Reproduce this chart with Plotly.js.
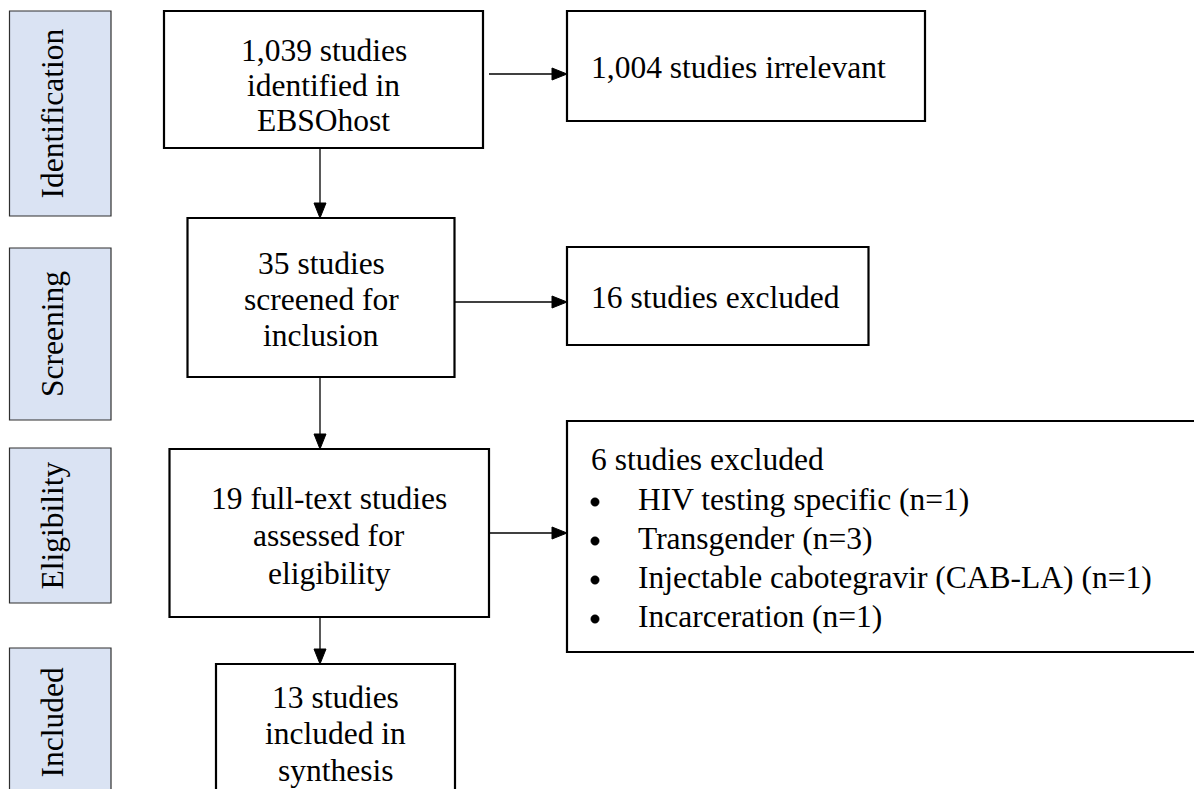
<!DOCTYPE html>
<html>
<head>
<meta charset="utf-8">
<script src="https://cdn.plot.ly/plotly-3.0.1.min.js"></script>
<style>
html,body{margin:0;padding:0;background:#fff;}
#chart{width:1194px;height:789px;}
</style>
</head>
<body>
<div id="chart"></div>
<script>
// ---------- DATA ----------
const stageLabels = ['Identification', 'Screening', 'Eligibility', 'Included'];
const flowCounts = [1039, 35, 19, 13];
const flowNouns = ['studies', 'studies', 'full-text studies', 'studies'];
const flowTails = [['identified in', 'EBSOhost'], ['screened for', 'inclusion'], ['assessed for', 'eligibility'], ['included in', 'synthesis']];
const excludedCounts = [1004, 16, 6];
const excludedLabels = ['studies irrelevant', 'studies excluded', 'studies excluded'];
const exclusionReasons = ['HIV testing specific', 'Transgender', 'Injectable cabotegravir (CAB-LA)', 'Incarceration'];
const reasonCounts = [1, 3, 1, 1];

// ---------- LAYOUT GEOMETRY (positions / styles) ----------
const FONT = {family: 'Liberation Serif, Times New Roman, serif', size: 31.5, color: '#000'};
const sideX = [9.5, 111];
const sideY = [[11, 216], [248, 420], [448, 603], [648, 797]];
const sideLabelX = 52;
const mainBoxes = [
  {x0: 164, x1: 483, y0: 11, y1: 148, lines: [50, 85, 120]},
  {x0: 187.5, x1: 454.5, y0: 218, y1: 377, lines: [263, 299, 335]},
  {x0: 169.5, x1: 489, y0: 449, y1: 617, lines: [498, 535, 573]},
  {x0: 216, x1: 455, y0: 664, y1: 800, lines: [697, 733, 770]}
];
const exclBoxes = [
  {x0: 567, x1: 925, y0: 11, y1: 121, textY: 67},
  {x0: 567, x1: 868.5, y0: 247, y1: 345, textY: 297},
  {x0: 567, x1: 1205, y0: 421, y1: 652, textY: 459}
];
const exclTextX = 589;
const bulletX = 595, bulletR = 4.2, reasonX = 636;
const reasonY = [499, 538, 577, 616];
const sideArrowY = [74, 302, 533];
const vArrowX = 320;

// ---------- BUILD ----------
const fmt = n => n.toLocaleString('en-US');
const shapes = [];
const annotations = [];

function rect(x0, y0, x1, y1, color, width, fill) {
  shapes.push({type: 'rect', xref: 'x', yref: 'y', x0, y0, x1, y1,
    line: {color, width}, fillcolor: fill || 'rgba(0,0,0,0)', layer: 'below'});
}
function dot(cx, cy, r) {
  shapes.push({type: 'circle', xref: 'x', yref: 'y', x0: cx - r, x1: cx + r, y0: cy - r, y1: cy + r,
    fillcolor: '#000', line: {color: '#000', width: 0.5}});
}
function arrow(x0, y0, x1, y1) {
  const L = 15, W = 6;
  const dx = x1 - x0, dy = y1 - y0, len = Math.hypot(dx, dy);
  const ux = dx / len, uy = dy / len;
  const bx = x1 - ux * L, by = y1 - uy * L;
  shapes.push({type: 'line', xref: 'x', yref: 'y', x0, y0, x1: bx, y1: by, line: {color: '#000', width: 1.3}});
  const px = -uy, py = ux;
  shapes.push({type: 'path', xref: 'x', yref: 'y',
    path: `M ${x1} ${y1} L ${bx + px * W} ${by + py * W} L ${bx - px * W} ${by - py * W} Z`,
    fillcolor: '#000', line: {color: '#000', width: 1}});
}
function label(x, y, text, anchor, angle) {
  annotations.push({x, y, xref: 'x', yref: 'y', text, showarrow: false,
    font: FONT, xanchor: anchor || 'center', yanchor: 'middle', textangle: angle || 0});
}

// side stage boxes
stageLabels.forEach((s, i) => {
  rect(sideX[0], sideY[i][0], sideX[1], sideY[i][1], '#2f2f2f', 1.2, '#dae3f3');
  label(sideLabelX, (sideY[i][0] + sideY[i][1]) / 2, s, 'center', -90);
});

// main flow boxes
mainBoxes.forEach((b, i) => {
  rect(b.x0, b.y0, b.x1, b.y1, '#000', 2.2);
  const cx = (b.x0 + b.x1) / 2;
  const lines = [fmt(flowCounts[i]) + ' ' + flowNouns[i]].concat(flowTails[i]);
  lines.forEach((t, k) => label(cx, b.lines[k], t));
});

// exclusion boxes
exclBoxes.forEach((b, i) => {
  rect(b.x0, b.y0, b.x1, b.y1, '#000', 2.2);
  label(exclTextX, b.textY, fmt(excludedCounts[i]) + ' ' + excludedLabels[i], 'left');
});
exclusionReasons.forEach((r, k) => {
  dot(bulletX, reasonY[k] + 3, bulletR);
  label(reasonX, reasonY[k], r + ' (n=' + reasonCounts[k] + ')', 'left');
});

// arrows
for (let i = 0; i < 3; i++) {
  arrow(mainBoxes[i].x1 + (i === 0 ? 6 : 0), sideArrowY[i], exclBoxes[i].x0, sideArrowY[i]);
  arrow(vArrowX, mainBoxes[i].y1, vArrowX, mainBoxes[i + 1].y0);
}

const layout = {
  width: 1194, height: 789,
  margin: {l: 0, r: 0, t: 0, b: 0},
  paper_bgcolor: '#fff', plot_bgcolor: '#fff',
  showlegend: false,
  xaxis: {range: [0, 1194], visible: false, fixedrange: true},
  yaxis: {range: [789, 0], visible: false, fixedrange: true},
  shapes, annotations
};
Plotly.newPlot('chart', [], layout, {displayModeBar: false, staticPlot: true});
</script>
</body>
</html>
